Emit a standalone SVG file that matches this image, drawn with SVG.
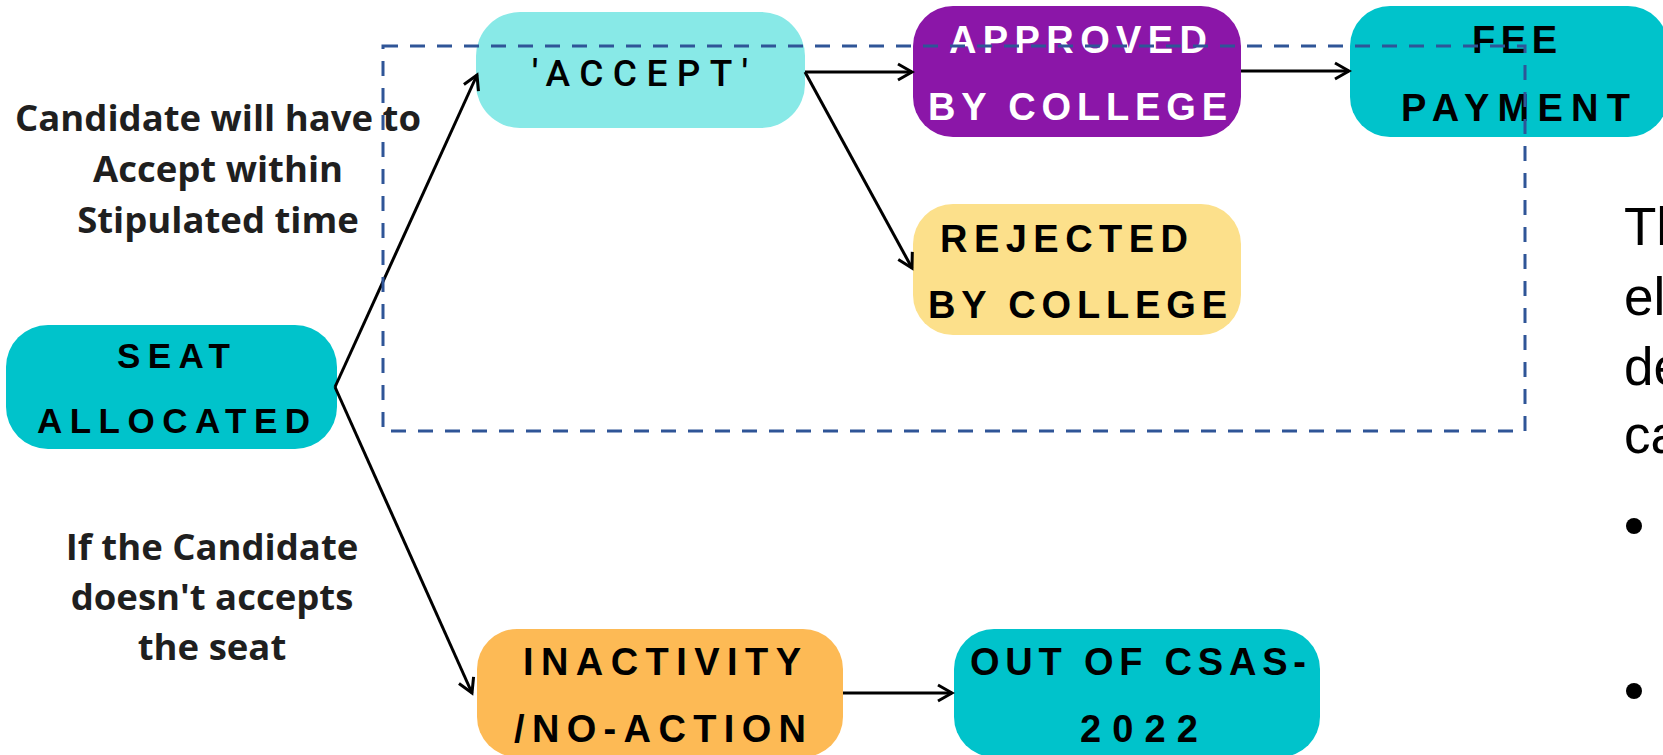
<svg xmlns="http://www.w3.org/2000/svg" width="1663" height="755" viewBox="0 0 1663 755">
<style>
.n{font-family:"Liberation Sans",Arial,sans-serif;font-weight:bold;font-size:38px;fill:#000}
.w{fill:#fff}
.acc{font-family:Roboto,"Liberation Sans",Arial,sans-serif;font-weight:500;font-size:37px;fill:#000}
.lbl{font-family:"Open Sans","Liberation Sans",sans-serif;font-weight:bold;font-size:36.5px;fill:#1f1f1f;text-anchor:middle}
.side{font-family:"Liberation Sans",Arial,sans-serif;font-size:53px;fill:#000}
.c{fill:none;stroke:#000;stroke-width:3}
</style>
<defs>
<marker id="ah" markerUnits="userSpaceOnUse" viewBox="-18 -11 21 22" markerWidth="21" markerHeight="22" refX="0" refY="0" orient="auto">
<path d="M-14,-8 L0,0 L-14,8" fill="none" stroke="#000" stroke-width="3" stroke-linejoin="miter"/>
</marker>
</defs>
<rect width="1663" height="755" fill="#fff"/>

<g id="seat-allocated">
<rect x="6" y="325" width="331" height="124" rx="42" fill="#00C3CB"/>
<text class="n" style="font-size:35px" x="117" y="368" textLength="113" lengthAdjust="spacing">SEAT</text>
<text class="n" style="font-size:35px" x="37" y="433" textLength="273" lengthAdjust="spacing">ALLOCATED</text>
</g>

<g id="accept">
<rect x="476" y="12" width="329" height="116" rx="44" fill="#88E9E7"/>
<text class="acc" x="532" y="86" textLength="216" lengthAdjust="spacing">'ACCEPT'</text>
</g>

<g id="approved">
<rect x="913" y="6" width="328" height="131" rx="40" fill="#8B16A8"/>
<text class="n w" x="949" y="53" textLength="258" lengthAdjust="spacing">APPROVED</text>
<text class="n w" x="928" y="120" textLength="299" lengthAdjust="spacing">BY COLLEGE</text>
</g>

<g id="fee-payment">
<rect x="1350" y="6" width="318" height="131" rx="40" fill="#00C3CB"/>
<text class="n" x="1472" y="53" textLength="85" lengthAdjust="spacing">FEE</text>
<text class="n" x="1401" y="121" textLength="229" lengthAdjust="spacing">PAYMENT</text>
</g>

<g id="rejected">
<rect x="913" y="204" width="328" height="131" rx="40" fill="#FCE08B"/>
<text class="n" x="940" y="252" textLength="248" lengthAdjust="spacing">REJECTED</text>
<text class="n" x="928" y="318" textLength="299" lengthAdjust="spacing">BY COLLEGE</text>
</g>

<g id="inactivity">
<rect x="477" y="629" width="366" height="128" rx="40" fill="#FDBA55"/>
<text class="n" x="523" y="675" textLength="278" lengthAdjust="spacing">INACTIVITY</text>
<text class="n" x="514" y="742" textLength="292" lengthAdjust="spacing">/NO-ACTION</text>
</g>

<g id="out-of-csas">
<rect x="954" y="629" width="366" height="128" rx="40" fill="#00C3CB"/>
<text class="n" x="970" y="675" textLength="336" lengthAdjust="spacing">OUT OF CSAS-</text>
<text class="n" x="1080" y="742" textLength="118" lengthAdjust="spacing">2022</text>
</g>

<g id="connectors">
<line class="c" x1="335" y1="387" x2="477" y2="75" marker-end="url(#ah)"/>
<line class="c" x1="335" y1="387" x2="472" y2="693" marker-end="url(#ah)"/>
<line class="c" x1="805" y1="72" x2="912" y2="72" marker-end="url(#ah)"/>
<line class="c" x1="805" y1="72" x2="912" y2="268" marker-end="url(#ah)"/>
<line class="c" x1="1241" y1="71" x2="1349" y2="71" marker-end="url(#ah)"/>
<line class="c" x1="843" y1="693" x2="952" y2="693" marker-end="url(#ah)"/>
</g>

<g id="group-box">
<rect x="383" y="46" width="1142" height="385" fill="none" stroke="#2F5597" stroke-width="3" stroke-dasharray="15 12"/>
</g>

<g id="labels">
<text class="lbl" x="218" y="131">Candidate will have to</text>
<text class="lbl" x="218" y="182">Accept within</text>
<text class="lbl" x="218" y="233">Stipulated time</text>
<text class="lbl" x="212" y="560">If the Candidate</text>
<text class="lbl" x="212" y="610">doesn't accepts</text>
<text class="lbl" x="212" y="660">the seat</text>
</g>

<g id="side-text">
<text class="side" x="1624" y="245">Th</text>
<text class="side" x="1624" y="315">el</text>
<text class="side" x="1624" y="385">de</text>
<text class="side" x="1624" y="453">ca</text>
<circle cx="1634" cy="526" r="8" fill="#000"/>
<circle cx="1634" cy="691" r="8" fill="#000"/>
</g>
</svg>
